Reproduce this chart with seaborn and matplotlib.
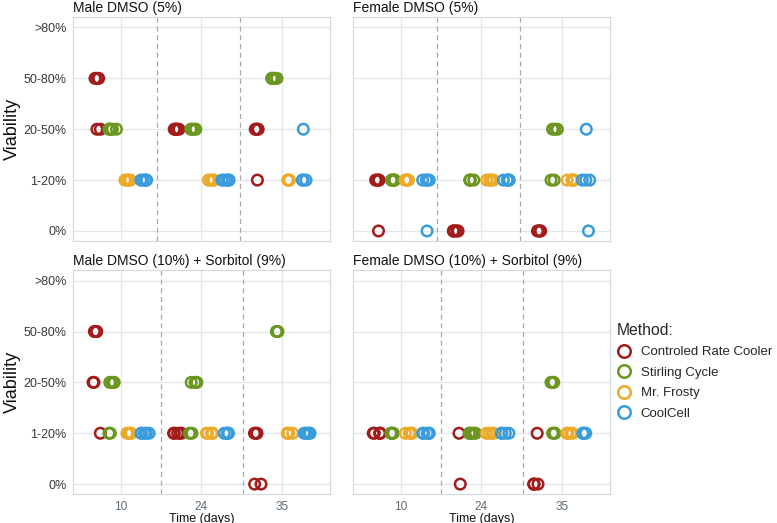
import matplotlib.pyplot as plt
from matplotlib.lines import Line2D
import numpy as np
import pandas as pd
import seaborn as sns

panels = [
    "Male DMSO (5%)",
    "Female DMSO (5%)",
    "Male DMSO (10%) + Sorbitol (9%)",
    "Female DMSO (10%) + Sorbitol (9%)",
]
times = ["10", "24", "35"]
methods = ["Controled Rate Cooler", "Stirling Cycle", "Mr. Frosty", "CoolCell"]
viability_labels = ["0%", "1-20%", "20-50%", "50-80%", ">80%"]
method_colors = ["#a31c1c", "#6b961f", "#ecaa28", "#3b9cdc"]

# rows: (time, method index, viability level index, number of samples)
male_dmso5 = [
    ("10", 0, 3, 3), ("10", 0, 2, 2), ("10", 1, 2, 5), ("10", 2, 1, 4), ("10", 3, 1, 5),
    ("24", 0, 2, 5), ("24", 1, 2, 4), ("24", 2, 1, 4), ("24", 3, 1, 5),
    ("35", 0, 2, 4), ("35", 0, 1, 1), ("35", 1, 3, 5), ("35", 2, 1, 3),
    ("35", 3, 2, 1), ("35", 3, 1, 3),
]
female_dmso5 = [
    ("10", 0, 1, 4), ("10", 0, 0, 1), ("10", 1, 1, 5), ("10", 2, 1, 4),
    ("10", 3, 1, 4), ("10", 3, 0, 1),
    ("24", 0, 0, 5), ("24", 1, 1, 4), ("24", 2, 1, 4), ("24", 3, 1, 5),
    ("35", 0, 0, 4), ("35", 1, 2, 3), ("35", 1, 1, 2), ("35", 2, 1, 5),
    ("35", 3, 2, 1), ("35", 3, 1, 3), ("35", 3, 0, 1),
]
male_sorbitol = [
    ("10", 0, 3, 3), ("10", 0, 2, 2), ("10", 0, 1, 1), ("10", 1, 2, 3), ("10", 1, 1, 2),
    ("10", 2, 1, 4), ("10", 3, 1, 5),
    ("24", 0, 1, 5), ("24", 1, 2, 3), ("24", 1, 1, 2), ("24", 2, 1, 4), ("24", 3, 1, 5),
    ("35", 0, 1, 3), ("35", 0, 0, 2), ("35", 1, 3, 3), ("35", 2, 1, 4), ("35", 3, 1, 5),
]
female_sorbitol = [
    ("10", 0, 1, 5), ("10", 1, 1, 4), ("10", 2, 1, 4), ("10", 3, 1, 5),
    ("24", 0, 1, 1), ("24", 0, 0, 1), ("24", 1, 1, 5), ("24", 2, 1, 4), ("24", 3, 1, 4),
    ("35", 0, 1, 1), ("35", 0, 0, 4), ("35", 1, 2, 3), ("35", 1, 1, 3),
    ("35", 2, 1, 4), ("35", 3, 1, 4),
]
panel_rows = [male_dmso5, female_dmso5, male_sorbitol, female_sorbitol]

# dashed separators between the time groups (top row, bottom row)
separators = [[0.45, 1.48], [0.5, 1.52]]


def expand(rows):
    """Turn (time, method, level, n) rows into one row per sample."""
    records = []
    for time, m, level, n in rows:
        for _ in range(n):
            records.append({"time": time, "method": methods[m], "level": level})
    return pd.DataFrame(records)


sns.set_style("white")
plt.rcParams["font.family"] = ["Liberation Sans", "DejaVu Sans"]

grid_color = "#e1e7eb"
border_color = "#d3dbe0"

np.random.seed(3)
fig, axes = plt.subplots(2, 2, figsize=(7.77, 5.23), dpi=100)
fig.subplots_adjust(left=0.0936, right=0.7851, top=0.9669, bottom=0.0549,
                    wspace=0.088, hspace=0.131)

for i, ax in enumerate(axes.flat):
    df = expand(panel_rows[i])
    row, col = divmod(i, 2)

    for xpos in separators[row]:
        ax.axvline(xpos, color="#a8a8a8", lw=0.9, ls=(0, (4, 3)), zorder=1)

    sns.stripplot(data=df, x="time", y="level", hue="method", order=times,
                  hue_order=methods, palette=method_colors, dodge=True,
                  jitter=0.22, size=7.6, linewidth=0, legend=False, ax=ax)
    for coll in ax.collections:
        fc = coll.get_facecolors()
        coll.set_edgecolors(fc)
        coll.set_facecolors("none")
        coll.set_linewidth(1.8)

    ax.set_xlim(-0.6, 2.6)
    ax.set_ylim(-0.2, 4.2)
    ax.set_yticks(range(len(viability_labels)))
    ax.set_yticklabels(viability_labels)
    ax.set_xticks(range(len(times)))
    ax.set_xticklabels(times)

    ax.grid(True, color=grid_color, lw=0.9, zorder=0)
    ax.set_axisbelow(True)
    for spine in ax.spines.values():
        spine.set_visible(True)
        spine.set_color(border_color)
        spine.set_linewidth(0.9)

    ax.tick_params(axis="both", length=2.5, width=0.7, color="#555555", pad=2)
    ax.tick_params(axis="y", labelsize=9, labelcolor="#3a3a3a")
    ax.tick_params(axis="x", labelsize=8.5, labelcolor="#5b6975")

    ax.set_title(panels[i], loc="left", fontsize=10, pad=4, color="#111111")

    if row == 0:
        ax.tick_params(axis="x", labelbottom=False)
        ax.set_xlabel("")
    else:
        ax.set_xlabel("Time (days)", fontsize=9, color="#111111", labelpad=0)
    if col == 1:
        ax.tick_params(axis="y", labelleft=False)
        ax.set_ylabel("")
    else:
        ax.set_ylabel("Viability", fontsize=13, color="#111111")
        ax.yaxis.set_label_coords(-0.2, 0.5)

handles = [
    Line2D([], [], ls="none", marker="o", markersize=9, markerfacecolor="none",
           markeredgecolor=c, markeredgewidth=1.8)
    for c in method_colors
]
fig.legend(handles, methods, title="Method:", loc="upper left",
           bbox_to_anchor=(0.778, 0.405), frameon=False, fontsize=9.5,
           title_fontsize=11.3, alignment="left", handlelength=1.1,
           handletextpad=0.75, labelspacing=0.62, borderpad=0.4)

fig.savefig("out.png", dpi=100)
